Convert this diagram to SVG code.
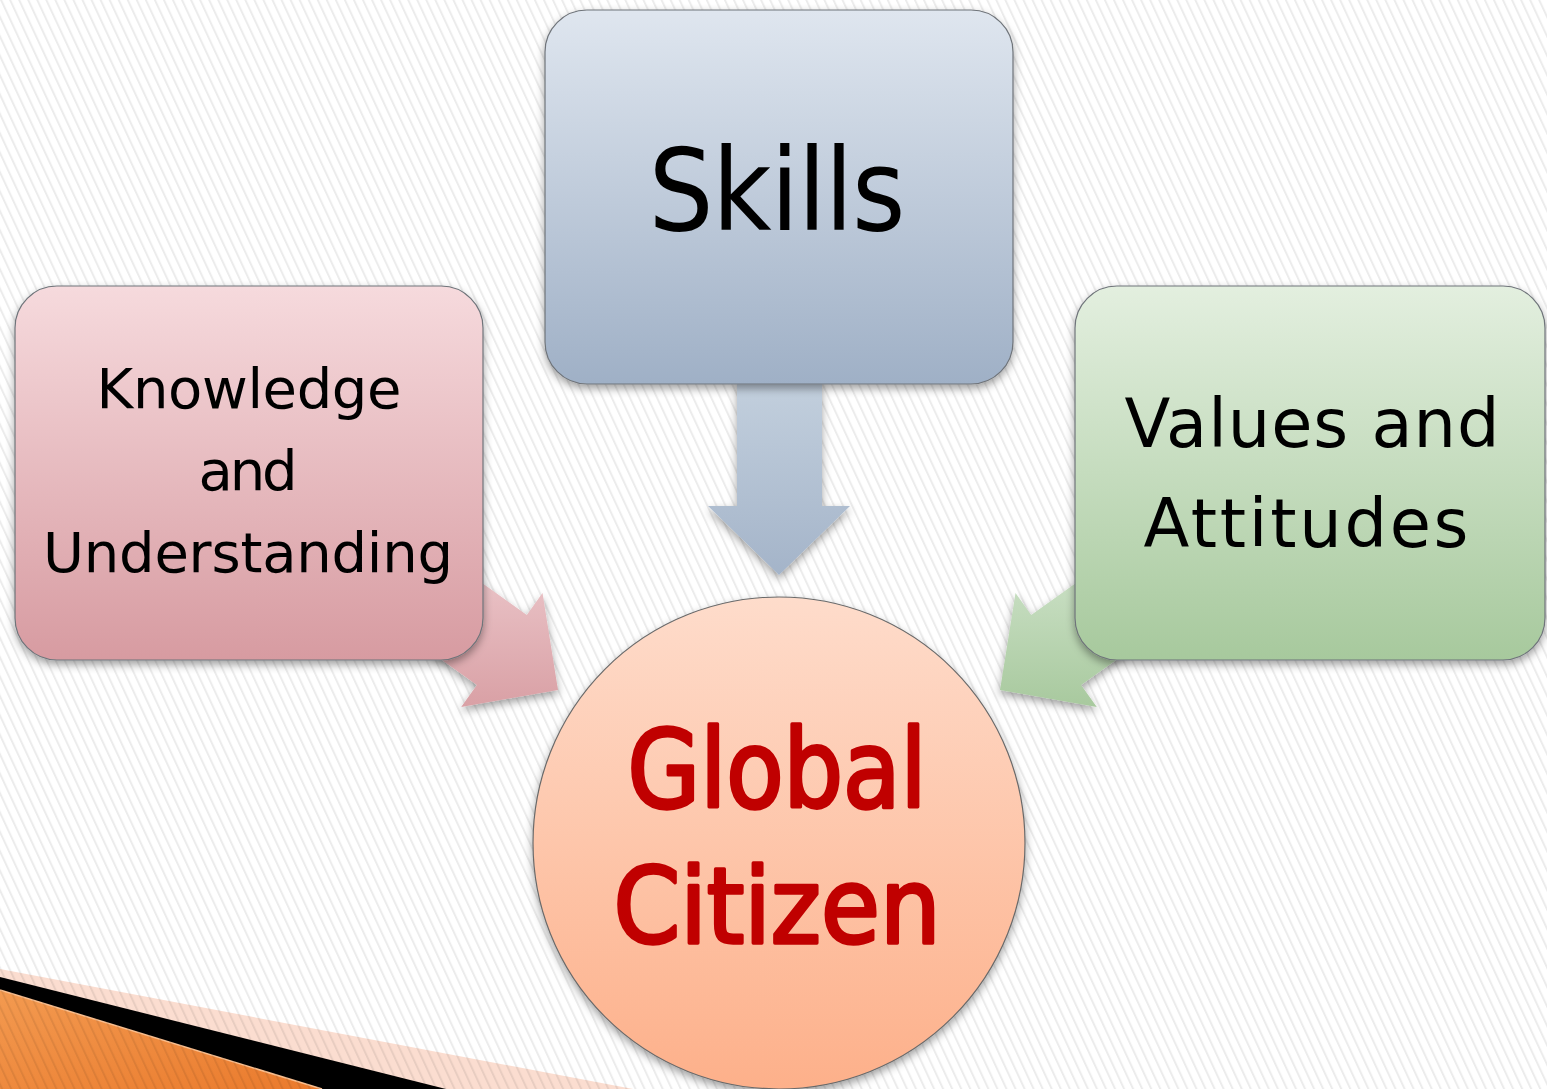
<svg xmlns="http://www.w3.org/2000/svg" width="1547" height="1089" viewBox="0 0 1547 1089">
  <defs>
    <style>
      .lbl { font-family: "DejaVu Sans", "Liberation Sans", sans-serif; fill: #000; text-anchor: middle; }
      .cond { font-family: "DejaVu Sans Condensed", "DejaVu Sans", sans-serif; font-stretch: condensed; }
      .hub { font-family: "DejaVu Sans Condensed", "DejaVu Sans", sans-serif; font-stretch: condensed; fill: #c00000; stroke: #c00000; stroke-width: 3.4; stroke-linejoin: round; text-anchor: middle; }
      .box { stroke: #6f747a; stroke-width: 1.2; }
    </style>
    <pattern id="stripes" patternUnits="userSpaceOnUse" width="8.2" height="40" patternTransform="rotate(-25)">
      <line x1="1" y1="0" x2="1" y2="40" stroke="#000" stroke-opacity="0.075" stroke-width="2"/>
    </pattern>
    <filter id="shadow" x="-10%" y="-10%" width="120%" height="125%">
      <feDropShadow dx="0" dy="4" stdDeviation="4" flood-color="#000" flood-opacity="0.38"/>
    </filter>
    <linearGradient id="gSkills" x1="0" y1="0" x2="0" y2="1">
      <stop offset="0" stop-color="#dfe6ef"/>
      <stop offset="1" stop-color="#9fb0c6"/>
    </linearGradient>
    <linearGradient id="gKnow" x1="0" y1="0" x2="0" y2="1">
      <stop offset="0" stop-color="#f6dadd"/>
      <stop offset="1" stop-color="#d79ba1"/>
    </linearGradient>
    <linearGradient id="gVal" x1="0" y1="0" x2="0" y2="1">
      <stop offset="0" stop-color="#e3efdf"/>
      <stop offset="1" stop-color="#a7c99d"/>
    </linearGradient>
    <linearGradient id="gHub" x1="0" y1="0" x2="0" y2="1">
      <stop offset="0" stop-color="#fedccb"/>
      <stop offset="1" stop-color="#fdb08a"/>
    </linearGradient>
    <linearGradient id="gArrowBlue" gradientUnits="userSpaceOnUse" x1="0" y1="385" x2="0" y2="575">
      <stop offset="0" stop-color="#c2cfdd"/>
      <stop offset="1" stop-color="#a4b4c9"/>
    </linearGradient>
    <linearGradient id="gArrowPink" gradientUnits="userSpaceOnUse" x1="0" y1="590" x2="0" y2="707">
      <stop offset="0" stop-color="#e8bfc3"/>
      <stop offset="1" stop-color="#d9a0a5"/>
    </linearGradient>
    <linearGradient id="gArrowGreen" gradientUnits="userSpaceOnUse" x1="0" y1="590" x2="0" y2="707">
      <stop offset="0" stop-color="#c6ddc0"/>
      <stop offset="1" stop-color="#a8c99e"/>
    </linearGradient>
    <linearGradient id="gOrange" x1="0" y1="0" x2="1" y2="1">
      <stop offset="0" stop-color="#f39a50"/>
      <stop offset="1" stop-color="#ea7a2c"/>
    </linearGradient>
  </defs>

  <!-- background and corner swoosh -->
  <rect width="1547" height="1089" fill="#ffffff"/>
  <polygon points="0,969 633,1089 0,1089" fill="#fbd9cb" fill-opacity="0.9"/>
  <polygon points="0,977 446,1089 0,1089" fill="#000000"/>
  <polygon points="0,990 322,1089 0,1089" fill="url(#gOrange)"/>
  <line x1="0" y1="990" x2="322" y2="1089" stroke="#f9be8e" stroke-width="1.5"/>
  <rect width="1547" height="1089" fill="url(#stripes)"/>

  <!-- connectors: block arrows pointing at the hub -->
  <g id="connectors" filter="url(#shadow)">
    <polygon id="arrow-skills" points="737,380 822,380 822,506 850,506 779,575 708,506 737,506" fill="url(#gArrowBlue)"/>
    <polygon id="arrow-knowledge" points="558,690 542.5,592.9 526.8,614.9 371.4,503.9 321.4,573.9 476.9,684.9 461.2,706.9" fill="url(#gArrowPink)"/>
    <polygon id="arrow-values" points="1000,690 1015.5,592.9 1031.2,614.9 1186.6,503.9 1236.6,573.9 1081.1,684.9 1096.8,706.9" fill="url(#gArrowGreen)"/>
  </g>

  <g id="node-skills">
    <rect class="box" x="545" y="10" width="468" height="374" rx="42" fill="url(#gSkills)" filter="url(#shadow)"/>
    <text class="lbl cond" x="777" y="230" font-size="114" textLength="257" lengthAdjust="spacing">Skills</text>
  </g>

  <g id="node-knowledge">
    <rect class="box" x="15" y="286" width="468" height="374" rx="42" fill="url(#gKnow)" filter="url(#shadow)"/>
    <text class="lbl" x="249" y="408" font-size="56" textLength="305" lengthAdjust="spacing">Knowledge</text>
    <text class="lbl" x="248" y="490" font-size="56" textLength="99" lengthAdjust="spacing">and</text>
    <text class="lbl" x="248" y="572" font-size="56" textLength="410" lengthAdjust="spacing">Understanding</text>
  </g>

  <g id="node-values">
    <rect class="box" x="1075" y="286" width="470" height="374" rx="42" fill="url(#gVal)" filter="url(#shadow)"/>
    <text class="lbl" x="1312" y="447" font-size="67" textLength="375" lengthAdjust="spacing">Values and</text>
    <text class="lbl" x="1306" y="547" font-size="67" textLength="325" lengthAdjust="spacing">Attitudes</text>
  </g>

  <g id="node-global-citizen">
    <circle cx="779" cy="843" r="246" fill="url(#gHub)" stroke="#6a6a6a" stroke-width="1.2" filter="url(#shadow)"/>
    <text class="hub" x="777" y="807" font-size="108" textLength="299" lengthAdjust="spacingAndGlyphs">Global</text>
    <text class="hub" x="777" y="943" font-size="106" textLength="327" lengthAdjust="spacingAndGlyphs">Citizen</text>
  </g>
</svg>
